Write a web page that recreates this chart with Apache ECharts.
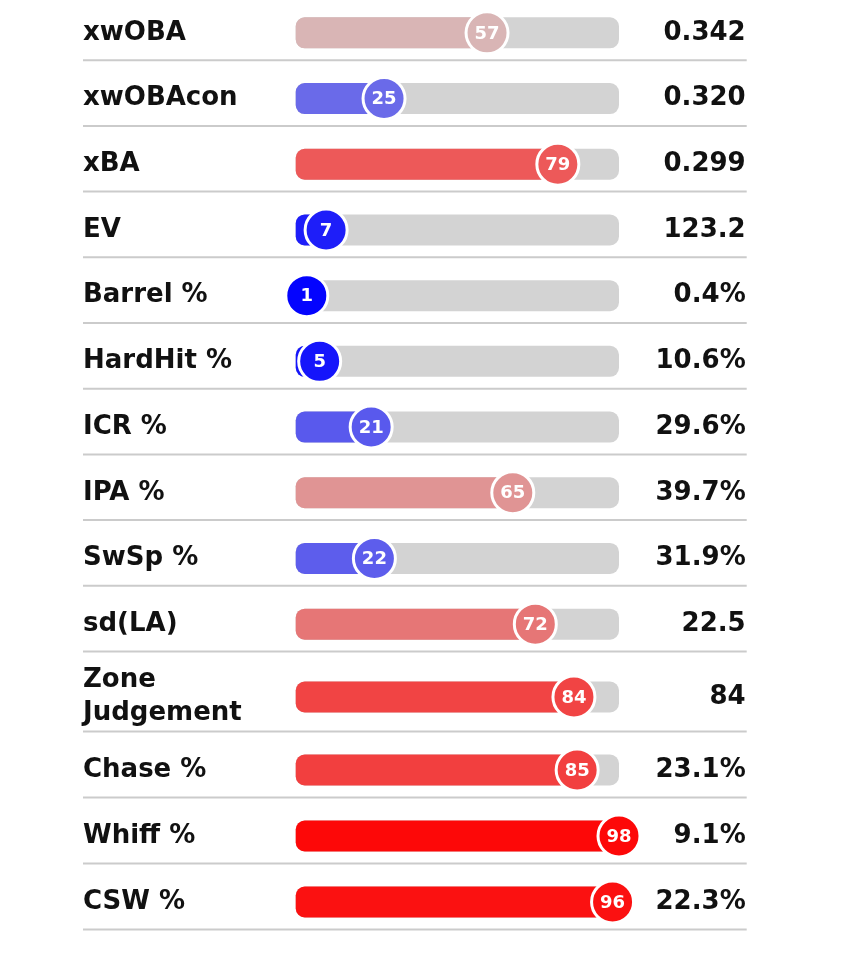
<!DOCTYPE html>
<html>
<head>
<meta charset="utf-8">
<script src="https://cdn.jsdelivr.net/npm/echarts@6/dist/echarts.min.js"></script>
<style>
  html, body { margin: 0; padding: 0; background: #ffffff; }
  #chart { width: 850px; height: 953px; }
</style>
</head>
<body>
<div id="chart"></div>
<script>
// ---- data ----
const labels = ['xwOBA', 'xwOBAcon', 'xBA', 'EV', 'Barrel %', 'HardHit %', 'ICR %', 'IPA %', 'SwSp %', 'sd(LA)', 'Zone\nJudgement', 'Chase %', 'Whiff %', 'CSW %'];
const percentiles = [57, 25, 79, 7, 1, 5, 21, 65, 22, 72, 84, 85, 98, 96];
const valueText = ['0.342', '0.320', '0.299', '123.2', '0.4%', '10.6%', '29.6%', '39.7%', '31.9%', '22.5', '84', '23.1%', '9.1%', '22.3%'];

// ---- layout ----
const X_MIN = -2.45, X_MAX = 98.0;
const groups = [
  { from: 0, to: 10, top: -3, height: 660 },
  { from: 10, to: 11, top: 657, height: 80 },
  { from: 11, to: 14, top: 737, height: 198 }
];
const GRID_LEFT = 295.7, GRID_WIDTH = 323.3;
const LINE_LEFT = 83, LINE_RIGHT = 746.7;
const FONT = '"DejaVu Sans", sans-serif';

function renderItem(params, api) {
  const p = api.value(0);
  const idx = api.value(1);
  const start = api.coord([X_MIN, idx]);
  const end = api.coord([X_MAX, idx]);
  const pt = api.coord([p, idx]);
  const band = api.size([0, 1])[1];
  const y = pt[1];
  const color = api.visual('color');
  const h = 31, r = 21;
  const sepY = y + band / 2 - 5.5;
  return {
    type: 'group',
    children: [
      { type: 'line', shape: { x1: LINE_LEFT, y1: sepY, x2: LINE_RIGHT, y2: sepY }, style: { stroke: '#cbcbcb', lineWidth: 2 } },
      { type: 'rect', shape: { x: start[0], y: y - h / 2, width: end[0] - start[0], height: h, r: 9 }, style: { fill: '#d3d3d3' } },
      { type: 'rect', shape: { x: start[0], y: y - h / 2, width: pt[0] - start[0], height: h, r: [9, 0, 0, 9] }, style: { fill: color } },
      { type: 'circle', shape: { cx: pt[0], cy: y, r: r }, style: { fill: color, stroke: '#ffffff', lineWidth: 3 } },
      { type: 'text', style: { text: String(p), x: pt[0], y: y + 1, align: 'center', verticalAlign: 'middle', fill: '#ffffff', font: 'bold 18px ' + FONT } }
    ]
  };
}

const grid = [], xAxis = [], yAxis = [], series = [];
groups.forEach((g, gi) => {
  grid.push({ left: GRID_LEFT, width: GRID_WIDTH, top: g.top, height: g.height, containLabel: false });
  xAxis.push({ type: 'value', gridIndex: gi, min: X_MIN, max: X_MAX, show: false });
  yAxis.push({
    type: 'category', gridIndex: gi, inverse: true, position: 'left',
    data: labels.slice(g.from, g.to),
    axisLine: { show: false }, axisTick: { show: false }, splitLine: { show: false },
    axisLabel: { align: 'left', margin: GRID_LEFT - LINE_LEFT, fontFamily: FONT, fontWeight: 'bold', fontSize: 26, color: '#111111', lineHeight: 33, padding: [4, 0, 0, 0] }
  });
  yAxis.push({
    type: 'category', gridIndex: gi, inverse: true, position: 'right',
    data: valueText.slice(g.from, g.to),
    axisLine: { show: false }, axisTick: { show: false }, splitLine: { show: false },
    axisLabel: { align: 'right', margin: LINE_RIGHT - 1 - (GRID_LEFT + GRID_WIDTH), fontFamily: FONT, fontWeight: 'bold', fontSize: 26, color: '#111111', padding: [4, 0, 0, 0] }
  });
  series.push({
    type: 'custom', xAxisIndex: gi, yAxisIndex: gi * 2,
    renderItem: renderItem,
    encode: { x: 0, y: 1 },
    data: percentiles.slice(g.from, g.to).map((p, i) => [p, i]),
    clip: false, silent: true
  });
});

const chart = echarts.init(document.getElementById('chart'));
chart.setOption({
  animation: false,
  backgroundColor: '#ffffff',
  grid, xAxis, yAxis, series,
  visualMap: {
    show: false, type: 'continuous', min: 0, max: 100, dimension: 0,
    seriesIndex: [0, 1, 2],
    inRange: { color: ['#0000ff', '#d3d3d3', '#ff0000'] }
  }
});
</script>
</body>
</html>
